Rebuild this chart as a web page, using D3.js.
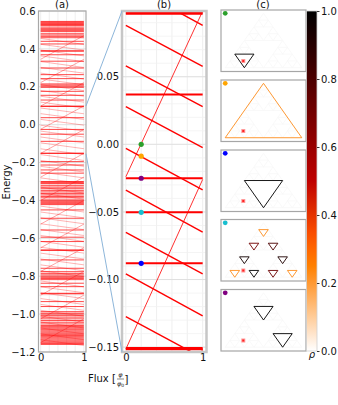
<!DOCTYPE html>
<html>
<head>
<meta charset="utf-8">
<script src="https://cdn.jsdelivr.net/npm/d3@7"></script>
<style>
  body { margin: 0; background: #fff; }
  text { font-family: "DejaVu Sans", sans-serif; }
</style>
</head>
<body>
<div id="chart"></div>
<script>
// energy levels, flux runs 0..1
// flux independent levels
const flatLevels = [
  0.545, 0.541, 0.537, 0.533, 0.529, 0.525, 0.521, 0.511, 0.506, 0.501, 0.496, 0.491,
  0.480, 0.473, 0.466, 0.459, 0.440, 0.426, 0.390, 0.388, 0.369, 0.335, 0.299, 0.264, 0.243,
  0.215, 0.209, 0.203, 0.197, 0.176, 0.155, 0.130,
  0.0975, 0.0965, 0.0369, -0.0251, -0.0503, -0.088, -0.1506, -0.1516,
  -0.195, -0.213, -0.239, -0.256, -0.300, -0.304, -0.308, -0.312,
  -0.322, -0.330, -0.338, -0.347, -0.355, -0.363, -0.371, -0.379, -0.386,
  -0.397, -0.402, -0.407, -0.412, -0.417, -0.422,
  -0.450, -0.494, -0.556, -0.594, -0.617, -0.661, -0.664, -0.714, -0.758,
  -0.776, -0.785, -0.793, -0.800, -0.806, -0.812, -0.818,
  -0.837, -0.855, -0.890, -0.893, -0.934, -0.960, -0.987, -0.995,
  -1.000, -1.008, -1.016, -1.025, -1.034, -1.043, -1.052, -1.060, -1.066, -1.072, -1.078,
  -1.083, -1.089, -1.095, -1.101, -1.107, -1.113, -1.119, -1.125, -1.131, -1.137, -1.143,
  -1.149, -1.155, -1.160
];
// slowly falling levels: [energy at flux 0, energy at flux 1]
const tiltLevels = [
  [0.455, 0.424], [0.424, 0.394], [0.394, 0.363], [0.363, 0.333], [0.333, 0.302],
  [0.302, 0.272], [0.272, 0.241], [0.241, 0.211], [0.211, 0.180], [0.180, 0.150],
  [0.150, 0.119], [0.119, 0.088], [0.088, 0.0576], [0.0581, 0.0278], [0.0278, -0.0025],
  [-0.003, -0.0337], [-0.0338, -0.065], [-0.0651, -0.0959], [-0.0959, -0.1268], [-0.1275, -0.158],
  [-0.158, -0.189], [-0.189, -0.220], [-0.220, -0.250], [-0.250, -0.281], [-0.281, -0.311],
  [-0.330, -0.361], [-0.362, -0.393], [-0.430, -0.461], [-0.461, -0.492], [-0.492, -0.523],
  [-0.523, -0.554], [-0.554, -0.585], [-0.585, -0.616], [-0.616, -0.647], [-0.647, -0.678],
  [-0.678, -0.709], [-0.709, -0.740], [-0.740, -0.771], [-0.771, -0.802], [-0.825, -0.856],
  [-0.856, -0.887], [-0.887, -0.918], [-0.918, -0.949], [-0.949, -0.980], [-0.980, -1.011],
  [-1.011, -1.042], [-1.042, -1.073], [-1.073, -1.104], [-1.104, -1.135], [-1.135, -1.166]
];
// steeply rising levels: [energy at flux 0, energy at flux 1]
const steepLevels = [
  [-1.150, -1.025], [-1.025, -0.900], [-0.900, -0.775], [-0.775, -0.650], [-0.650, -0.525],
  [-0.525, -0.400], [-0.400, -0.277], [-0.277, -0.1515], [-0.1515, -0.026], [-0.024, 0.0985],
  [0.0985, 0.222], [0.222, 0.345], [0.345, 0.470]
];

// zoom window of panel (b)
const zoomRange = [-0.1536, 0.0986];
const ticksA = [-1.2, -1.0, -0.8, -0.6, -0.4, -0.2, 0.0, 0.2, 0.4, 0.6];
const ticksB = [-0.15, -0.10, -0.05, 0.00, 0.05];
const fluxTicks = [0, 1];

// marked states in (b), shown in (c) top to bottom
const stateColors = ["#2ca02c", "#ffa500", "#0000ff", "#17becf", "#800080"];
const stateEnergy = [0.0, -0.0088, -0.088, -0.0503, -0.0251];
const stateFlux = 0.2;

// density on the gasket loops: [centre x, top (or base) y, width, rho]
const loopsGreen = [[0.25, 0.2165, 0.25, 1.0]];
const loopsOrange = [[0.5, 0.0, 1.0, 0.22]];
const loopsBlue = [[0.5, 0.433, 0.5, 1.0]];
const loopsCyan = [
  [0.125, 0.108, 0.125, 0.22], [0.375, 0.108, 0.125, 1.0], [0.625, 0.108, 0.125, 0.72],
  [0.875, 0.108, 0.125, 0.22], [0.25, 0.325, 0.125, 0.95], [0.75, 0.325, 0.125, 0.92],
  [0.375, 0.541, 0.125, 0.7], [0.625, 0.541, 0.125, 0.8], [0.5, 0.758, 0.125, 0.22]
];
const loopsPurple = [[0.5, 0.6495, 0.25, 1.0], [0.75, 0.2165, 0.25, 1.0]];
const loopSets = [loopsGreen, loopsOrange, loopsBlue, loopsCyan, loopsPurple];
// the orange panel is the outer (upward) triangle, the rest are holes
const loopUp = [false, true, false, false, false];
const fluxSite = [0.236, 0.107];
const cbarTicks = [0.0, 0.2, 0.4, 0.6, 0.8, 1.0];

(function () {
    var width = 338, height = 405;

    // gist_heat reversed
    function heat(v) {
        var x = 1 - v;
        var c = function (t) { return Math.round(255 * Math.max(0, Math.min(1, t))); };
        return d3.rgb(c(1.5 * x), c(2 * x - 1), c(4 * x - 3)).formatHex();
    }

    const svg = d3.select("#chart").append("svg")
        .attr("width", width).attr("height", height);

    const defs = svg.append("defs");

    //scales for (a) and (b)
    const xA = d3.scaleLinear().domain([-0.05, 1.05]).range([38.5, 86]);
    const yA = d3.scaleLinear().domain([-1.2, 0.6]).range([352, 11]);
    const xB = d3.scaleLinear().domain([-0.05, 1.05]).range([122, 206.5]);
    const yB = d3.scaleLinear().domain(zoomRange).range([352, 11]);

    function spectrum(id, x, y, st) {
        const [x0, x1] = x.range(), [y1, y0] = y.range();
        defs.append("clipPath").attr("id", id)
            .append("rect").attr("x", x0).attr("y", y0).attr("width", x1 - x0).attr("height", y1 - y0);

        const g = svg.append("g");
        // grid
        g.selectAll(".vg").data([0, 0.2, 0.4, 0.6, 0.8, 1]).join("line")
            .attr("x1", d => x(d)).attr("x2", d => x(d)).attr("y1", y0).attr("y2", y1)
            .attr("stroke", "#ebebeb").attr("stroke-width", 0.8);
        g.selectAll(".hm").data(st.minor).join("line")
            .attr("x1", x0).attr("x2", x1).attr("y1", d => y(d)).attr("y2", d => y(d))
            .attr("stroke", "#f1f1f1").attr("stroke-width", 0.8);
        g.selectAll(".hg").data(st.ticks).join("line")
            .attr("x1", x0).attr("x2", x1).attr("y1", d => y(d)).attr("y2", d => y(d))
            .attr("stroke", "#dedede").attr("stroke-width", 0.9);

        const line = d3.line().x(d => x(d[0])).y(d => y(d[1]));
        const lines = g.append("g").attr("clip-path", "url(#" + id + ")");

        lines.selectAll(".tilt").data(tiltLevels).join("path")
            .attr("d", d => line([[0, d[0]], [1, d[1]]]))
            .attr("fill", "none").attr("stroke", "red")
            .attr("stroke-width", st.tiltW).attr("stroke-opacity", st.tiltO);
        lines.selectAll(".steep").data(steepLevels).join("path")
            .attr("d", d => line([[0, d[0]], [1, d[1]]]))
            .attr("fill", "none").attr("stroke", "red")
            .attr("stroke-width", st.steepW).attr("stroke-opacity", st.steepO);
        lines.selectAll(".flat").data(flatLevels).join("path")
            .attr("d", d => line([[0, d], [1, d]]))
            .attr("fill", "none").attr("stroke", "red")
            .attr("stroke-width", st.flatW).attr("stroke-opacity", st.flatO);

        // frame
        svg.append("rect").attr("x", x0).attr("y", y0).attr("width", x1 - x0).attr("height", y1 - y0)
            .attr("fill", "none").attr("stroke", st.frame).attr("stroke-width", st.frameW);

        const ay = svg.append("g").attr("transform", "translate(" + x0 + ",0)")
            .call(d3.axisLeft(y).tickValues(st.ticks).tickFormat(d3.format(st.fmt)).tickSize(0).tickPadding(st.pad));
        const ax = svg.append("g").attr("transform", "translate(0," + y1 + ")")
            .call(d3.axisBottom(x).tickValues(fluxTicks).tickFormat(d3.format("d")).tickSize(0).tickPadding(2));
        [ay, ax].forEach(a => {
            a.select(".domain").remove();
            a.selectAll("text").attr("font-size", 10).attr("fill", "#111")
                .attr("font-family", "DejaVu Sans, sans-serif");
        });
        return g;
    }

    spectrum("clipA", xA, yA, {
        ticks: ticksA, minor: [-1.1, -0.9, -0.7, -0.5, -0.3, -0.1, 0.1, 0.3, 0.5], fmt: ".1f", pad: 3,
        flatW: 0.9, flatO: 0.8, tiltW: 0.6, tiltO: 0.5, steepW: 0.6, steepO: 0.6,
        frame: "#a8a8a8", frameW: 1.2
    });
    spectrum("clipB", xB, yB, {
        ticks: ticksB, minor: d3.range(-0.15, 0.1, 0.01), fmt: ".2f", pad: 3,
        flatW: 2, flatO: 1, tiltW: 1.4, tiltO: 1, steepW: 0.9, steepO: 0.9,
        frame: "#c6c6c6", frameW: 2.5
    });

    // zoom connectors
    svg.selectAll(".conn").data(zoomRange).join("line")
        .attr("x1", xA(1.05)).attr("y1", d => yA(d))
        .attr("x2", xB(-0.05)).attr("y2", d => yB(d))
        .attr("stroke", "#8db6da").attr("stroke-width", 1);

    // marked states
    svg.selectAll(".state").data(stateEnergy).join("circle")
        .attr("cx", xB(stateFlux)).attr("cy", d => yB(d)).attr("r", 2.6)
        .attr("fill", (d, i) => stateColors[i]);

    // titles
    [["(a)", 62], ["(b)", 164], ["(c)", 263]].forEach(t => {
        svg.append("text").attr("x", t[1]).attr("y", 8).attr("text-anchor", "middle")
            .attr("font-size", 10).attr("fill", "#111").text(t[0]);
    });

    // axis labels
    svg.append("text").attr("transform", "translate(9.5,182) rotate(-90)")
        .attr("text-anchor", "middle").attr("font-size", 10).attr("fill", "#111").text("Energy");
    const fl = svg.append("g").attr("fill", "#111");
    fl.append("text").attr("x", 88).attr("y", 381.5).attr("font-size", 10).text("Flux [");
    fl.append("text").attr("x", 120.3).attr("y", 377.3).attr("font-size", 6.5)
        .attr("text-anchor", "middle").attr("font-style", "italic").text("φ");
    fl.append("line").attr("x1", 117).attr("x2", 124).attr("y1", 379).attr("y2", 379)
        .attr("stroke", "#111").attr("stroke-width", 0.5);
    fl.append("text").attr("x", 120.5).attr("y", 385.5).attr("font-size", 6.5)
        .attr("text-anchor", "middle").attr("font-style", "italic")
        .html("φ<tspan font-size='4.5' font-style='normal' dy='1'>0</tspan>");
    fl.append("text").attr("x", 124.2).attr("y", 383).attr("font-size", 11).text("]");

    // (c) gasket panels
    const cTops = [10, 80, 150, 219.5, 289.5];
    const cH = 61.5;
    const xC = d3.scaleLinear().domain([-0.055, 1.055]).range([221, 306]);
    const h = Math.sqrt(3) / 2;

    // faint gasket outline (level 3)
    function gasket(x0, y0, s, n, out) {
        if (n === 0) { out.push([[x0, y0], [x0 + s, y0], [x0 + s / 2, y0 + s * h]]); return out; }
        gasket(x0, y0, s / 2, n - 1, out);
        gasket(x0 + s / 2, y0, s / 2, n - 1, out);
        gasket(x0 + s / 4, y0 + s * h / 2, s / 2, n - 1, out);
        return out;
    }
    const cells = gasket(0, 0, 1, 3, []);

    cTops.forEach((top, k) => {
        const yC = d3.scaleLinear().domain([-0.06, 0.919]).range([top + cH, top]);
        const g = svg.append("g");
        g.append("rect").attr("x", 221).attr("y", top).attr("width", 85).attr("height", cH)
            .attr("fill", "#fff");
        const tri = d3.line().x(d => xC(d[0])).y(d => yC(d[1]));
        g.selectAll(".cell").data(cells).join("path")
            .attr("d", d => tri(d) + "Z").attr("fill", "none")
            .attr("stroke", "#f6f6f6").attr("stroke-width", 0.7);
        g.selectAll(".loop").data(loopSets[k]).join("path")
            .attr("d", d => {
                const [cx, yy, w] = d;
                const pts = loopUp[k]
                    ? [[cx - w / 2, yy], [cx + w / 2, yy], [cx, yy + w * h]]
                    : [[cx - w / 2, yy], [cx + w / 2, yy], [cx, yy - w * h]];
                return tri(pts) + "Z";
            })
            .attr("fill", "none").attr("stroke", d => heat(d[3]))
            .attr("stroke-width", 1).attr("stroke-opacity", 0.9);
        // flux site marker
        const mx = xC(fluxSite[0]), my = yC(fluxSite[1]);
        g.append("rect").attr("x", mx - 2).attr("y", my - 2).attr("width", 4).attr("height", 4)
            .attr("fill", "#ff9a9a");
        g.append("rect").attr("x", mx - 1).attr("y", my - 1).attr("width", 2).attr("height", 2)
            .attr("fill", "#f22");
        g.append("circle").attr("cx", xC(0)).attr("cy", yC(h)).attr("r", 2.4)
            .attr("fill", stateColors[k]);
        g.append("rect").attr("x", 221).attr("y", top).attr("width", 85).attr("height", cH)
            .attr("fill", "none").attr("stroke", "#a6a6a6").attr("stroke-width", 1.2);
    });

    // colorbar
    const cb = d3.scaleLinear().domain([0, 1]).range([351, 11]);
    const grad = defs.append("linearGradient").attr("id", "heat")
        .attr("x1", 0).attr("y1", 1).attr("x2", 0).attr("y2", 0);
    grad.selectAll("stop").data(d3.range(0, 1.0001, 0.05)).join("stop")
        .attr("offset", d => d).attr("stop-color", d => heat(d));
    svg.append("rect").attr("x", 306.5).attr("y", 11).attr("width", 10.5).attr("height", 340)
        .attr("fill", "url(#heat)").attr("stroke", "#cfcfcf").attr("stroke-width", 0.8);
    const ac = svg.append("g").attr("transform", "translate(317,0)")
        .call(d3.axisRight(cb).tickValues(cbarTicks).tickFormat(d3.format(".1f")).tickSize(2.5).tickPadding(1.5));
    ac.select(".domain").remove();
    ac.selectAll("text").attr("font-size", 10).attr("fill", "#111")
        .attr("font-family", "DejaVu Sans, sans-serif");
    ac.selectAll("line").attr("stroke", "#333");
    svg.append("text").attr("x", 312).attr("y", 358).attr("text-anchor", "middle")
        .attr("font-size", 10).attr("font-style", "italic").attr("fill", "#111").text("ρ");
})();
</script>
</body>
</html>
